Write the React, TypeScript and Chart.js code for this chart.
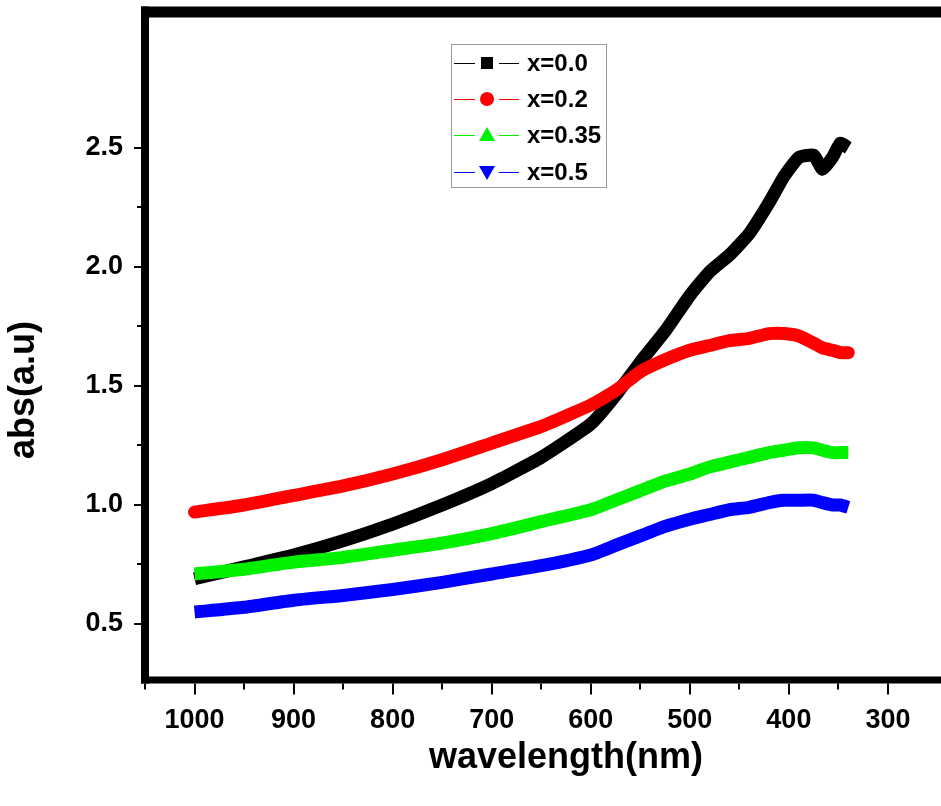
import React, { useEffect, useRef } from 'react';
import { Chart, registerables } from 'chart.js';

Chart.register(...registerables);

// ---- data ----
const wavelengths = [1000, 950, 900, 850, 800, 750, 700, 650, 600, 575, 550, 525, 500, 480, 460, 440, 420, 405, 390, 375, 366, 356, 348, 340];
const seriesLabels = ['x=0.0', 'x=0.2', 'x=0.35', 'x=0.5'];
const absX00 = [0.69, 0.74, 0.79, 0.85, 0.92, 1.0, 1.09, 1.2, 1.34, 1.46, 1.6, 1.73, 1.88, 1.98, 2.05, 2.14, 2.27, 2.38, 2.46, 2.47, 2.41, 2.46, 2.52, 2.5];
const absX02 = [0.97, 1.0, 1.04, 1.08, 1.13, 1.19, 1.26, 1.33, 1.42, 1.48, 1.56, 1.61, 1.65, 1.67, 1.69, 1.7, 1.72, 1.72, 1.71, 1.68, 1.66, 1.65, 1.64, 1.64];
const absX035 = [0.71, 0.73, 0.76, 0.78, 0.81, 0.84, 0.88, 0.93, 0.98, 1.02, 1.06, 1.1, 1.13, 1.16, 1.18, 1.2, 1.22, 1.23, 1.24, 1.24, 1.23, 1.22, 1.22, 1.22];
const absX05 = [0.55, 0.57, 0.6, 0.62, 0.645, 0.675, 0.71, 0.745, 0.79, 0.83, 0.87, 0.91, 0.94, 0.96, 0.98, 0.99, 1.01, 1.02, 1.02, 1.02, 1.01, 1.0, 1.0, 0.99];
const xTickValues = [1000, 900, 800, 700, 600, 500, 400, 300];
const xMinorTickValues = [1050, 950, 850, 750, 650, 550, 450, 350];
const yTickValues = [0.5, 1.0, 1.5, 2.0, 2.5];
const yMinorTickValues = [0.75, 1.25, 1.75, 2.25];
const seriesColors = ['#000000', '#ff0000', '#00f000', '#0000ff'];
const seriesMarkers = ['square', 'circle', 'triangleUp', 'triangleDown'];
const xTitle = 'wavelength(nm)';
const yTitle = 'abs(a.u)';

const FONT = '"Liberation Sans", Arial, Helvetica, sans-serif';

function drawMarker(ctx: CanvasRenderingContext2D, kind: string, x: number, y: number, color: string) {
  ctx.save();
  ctx.fillStyle = color;
  ctx.beginPath();
  if (kind === 'square') {
    ctx.rect(x - 6, y - 6, 12, 12);
  } else if (kind === 'circle') {
    ctx.arc(x, y, 7, 0, Math.PI * 2);
  } else if (kind === 'triangleUp') {
    ctx.moveTo(x, y - 8);
    ctx.lineTo(x + 8, y + 6);
    ctx.lineTo(x - 8, y + 6);
    ctx.closePath();
  } else {
    ctx.moveTo(x, y + 8);
    ctx.lineTo(x + 8, y - 6);
    ctx.lineTo(x - 8, y - 6);
    ctx.closePath();
  }
  ctx.fill();
  ctx.restore();
}

const framePlugin = {
  id: 'originFrame',
  afterDraw(chart: any) {
    const ctx: CanvasRenderingContext2D = chart.ctx;
    const { left, right, top, bottom } = chart.chartArea;
    const xs = chart.scales.x;
    const ys = chart.scales.y;
    ctx.save();
    ctx.strokeStyle = '#000';
    ctx.lineCap = 'butt';
    // frame
    ctx.lineWidth = 11;
    ctx.beginPath();
    ctx.moveTo(left - 4, top);
    ctx.lineTo(right + 20, top);
    ctx.stroke();
    ctx.lineWidth = 8;
    ctx.beginPath();
    ctx.moveTo(left, top - 5.5);
    ctx.lineTo(left, bottom + 3.5);
    ctx.stroke();
    ctx.lineWidth = 7;
    ctx.beginPath();
    ctx.moveTo(left - 4, bottom);
    ctx.lineTo(right + 20, bottom);
    ctx.stroke();
    // ticks
    ctx.lineWidth = 2;
    const xb = bottom + 3.5;
    xTickValues.forEach((v) => {
      const px = Math.round(xs.getPixelForValue(v));
      ctx.beginPath();
      ctx.moveTo(px, xb);
      ctx.lineTo(px, xb + 11);
      ctx.stroke();
    });
    xMinorTickValues.forEach((v) => {
      const px = Math.round(xs.getPixelForValue(v));
      ctx.beginPath();
      ctx.moveTo(px, xb);
      ctx.lineTo(px, xb + 6);
      ctx.stroke();
    });
    const yl = left - 4;
    yTickValues.forEach((v) => {
      const py = Math.round(ys.getPixelForValue(v));
      ctx.beginPath();
      ctx.moveTo(yl, py);
      ctx.lineTo(yl - 7, py);
      ctx.stroke();
    });
    yMinorTickValues.forEach((v) => {
      const py = Math.round(ys.getPixelForValue(v));
      ctx.beginPath();
      ctx.moveTo(yl, py);
      ctx.lineTo(yl - 4, py);
      ctx.stroke();
    });
    // axis titles
    ctx.fillStyle = '#000';
    ctx.font = `bold 36px ${FONT}`;
    ctx.textAlign = 'center';
    ctx.textBaseline = 'middle';
    ctx.fillText(xTitle, (left + right) / 2, 758);
    ctx.save();
    ctx.translate(24, 390);
    ctx.rotate(-Math.PI / 2);
    ctx.fillText(yTitle, 0, 0);
    ctx.restore();

    // legend
    const bx = 451, by = 44, bw = 155, bh = 143;
    ctx.fillStyle = '#fff';
    ctx.fillRect(bx, by, bw, bh);
    ctx.strokeStyle = '#9a9a9a';
    ctx.lineWidth = 1;
    ctx.strokeRect(bx + 0.5, by + 0.5, bw, bh);
    const rowY = [63, 99, 135, 172];
    seriesLabels.forEach((lab, i) => {
      const y = rowY[i];
      ctx.strokeStyle = seriesColors[i];
      ctx.lineWidth = 1;
      ctx.beginPath();
      ctx.moveTo(454, y + 0.5);
      ctx.lineTo(475, y + 0.5);
      ctx.moveTo(499, y + 0.5);
      ctx.lineTo(519, y + 0.5);
      ctx.stroke();
      drawMarker(ctx, seriesMarkers[i], 487, y, seriesColors[i]);
      ctx.fillStyle = '#000';
      ctx.font = `bold 24px ${FONT}`;
      ctx.textAlign = 'left';
      ctx.textBaseline = 'middle';
      ctx.fillText(lab, 527, y + 1);
    });
    ctx.restore();
  },
};

export default function App() {
  const canvasRef = useRef<HTMLCanvasElement | null>(null);

  useEffect(() => {
    const canvas = canvasRef.current;
    if (!canvas) return;
    const seriesValues = [absX00, absX02, absX035, absX05];
    const chart = new Chart(canvas, {
      type: 'line',
      data: {
        datasets: seriesValues.map((vals, i) => ({
          label: seriesLabels[i],
          data: wavelengths.map((w, j) => ({ x: w, y: vals[j] })),
          borderColor: seriesColors[i],
          backgroundColor: seriesColors[i],
          borderWidth: 13,
          pointRadius: 0,
          tension: 0.15,
          borderCapStyle: i === 1 ? 'round' : 'butt',
          borderJoinStyle: 'round',
          fill: false,
          order: 4 - i,
        })),
      },
      options: {
        responsive: false,
        animation: false,
        devicePixelRatio: 1,
        layout: { padding: { top: 12, left: 0, right: 13, bottom: 0 } },
        plugins: {
          legend: { display: false },
          tooltip: { enabled: false },
        },
        scales: {
          x: {
            type: 'linear',
            position: 'bottom',
            reverse: true,
            min: 200,
            max: 1050,
            grid: { display: false, drawTicks: false },
            border: { display: false },
            afterBuildTicks: (scale: any) => {
              scale.ticks = xTickValues.map((v) => ({ value: v }));
            },
            afterFit: (scale: any) => {
              scale.height = 126;
              scale.paddingLeft = 0;
              scale.paddingRight = 0;
            },
            ticks: {
              autoSkip: false,
              maxRotation: 0,
              padding: 24,
              color: '#000',
              font: { family: FONT, size: 27, weight: 'bold' },
              callback: (v: any) => String(v),
            },
          },
          y: {
            type: 'linear',
            min: 0.2647,
            max: 3.071,
            grid: { display: false, drawTicks: false },
            border: { display: false },
            afterBuildTicks: (scale: any) => {
              scale.ticks = yTickValues.map((v) => ({ value: v }));
            },
            afterFit: (scale: any) => {
              scale.width = 145;
              scale.paddingTop = 0;
              scale.paddingBottom = 0;
            },
            ticks: {
              autoSkip: false,
              padding: 22,
              color: '#000',
              font: { family: FONT, size: 27, weight: 'bold' },
              callback: (v: any) => Number(v).toFixed(1),
            },
          },
        },
      },
      plugins: [framePlugin],
    } as any);
    return () => chart.destroy();
  }, []);

  return (
    <div style={{ position: 'fixed', left: 0, top: 0, width: 941, height: 806, overflow: 'hidden', background: '#fff' }}>
      <canvas ref={canvasRef} width={1000} height={806} style={{ width: 1000, height: 806, display: 'block' }} />
    </div>
  );
}
